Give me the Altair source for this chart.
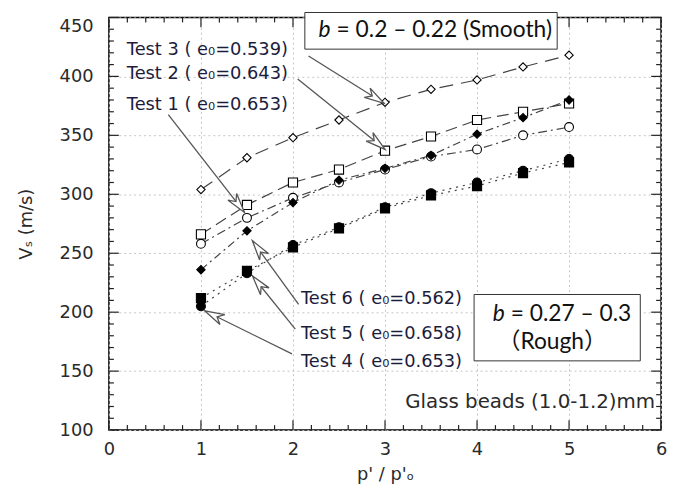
import math
import altair as alt
import pandas as pd

# ---------------- data ----------------
pressure_ratio = [1, 1.5, 2, 2.5, 3, 3.5, 4, 4.5, 5]
vs_test1 = [258, 280, 297, 310, 321, 332, 338, 350, 357]
vs_test2 = [266, 291, 310, 321, 337, 349, 363, 370, 377]
vs_test3 = [304, 331, 348, 363, 378, 389, 397, 408, 418]
vs_test4 = [205, 233, 257, 272, 289, 301, 310, 320, 330]
vs_test5 = [212, 235, 255, 271, 288, 299, 307, 318, 327]
vs_test6 = [236, 269, 293, 312, 322, 333, 351, 365, 380]

series = ["Test 1", "Test 2", "Test 3", "Test 4", "Test 5", "Test 6"]
series_values = [vs_test1, vs_test2, vs_test3, vs_test4, vs_test5, vs_test6]
marker_shapes = ["circle", "square", "diamond", "circle", "square", "diamond"]
marker_fills = ["white", "white", "white", "black", "black", "black"]
marker_sizes = [80, 85, 70, 80, 85, 70]
line_dashes = [[9, 4, 2, 4], [12, 6], [14, 8], [2, 5], [2, 5], [8, 4, 2, 4]]

label_texts = ["Test 1 ( e\u2080=0.653)", "Test 2 ( e\u2080=0.643)", "Test 3 ( e\u2080=0.539)",
               "Test 4 ( e\u2080=0.653)", "Test 5 ( e\u2080=0.658)", "Test 6 ( e\u2080=0.562)"]
label_x = [0.194, 0.194, 0.194, 2.086, 2.086, 2.086]
label_y = [371.9, 397.7, 417.8, 153.4, 177.2, 206.6]

arrow_x = [0.645, 2.051, 2.169, 1.989, 2.025, 2.061]
arrow_y = [367.5, 397.7, 417.3, 164.6, 185.6, 206.6]
arrow_x2 = [1.473, 3.0, 2.989, 1.040, 1.559, 1.559]
arrow_y2 = [284.6, 338.1, 377.2, 201.2, 230.8, 260.6]

box_x = [2.129, 3.968]
box_x2 = [4.871, 5.774]
box_y = [454.2, 215.0]
box_y2 = [423.1, 158.7]

b_x = [2.409, 4.301]
b_y = [439.0, 198.2]
b_rest = ["= 0.2 \u2013 0.22 (Smooth)", "= 0.27 \u2013 0.3"]
rough_text = ["\uff08Rough\uff09"]
rough_x = [4.817]
rough_y = [174.7]

note_text = ["Glass beads (1.0-1.2)mm"]
note_x = [5.935]
note_y = [118.5]

x_major_ticks = [0, 1, 2, 3, 4, 5, 6]
x_minor_ticks = [i / 5 for i in range(31) if i % 5]
y_major_ticks = [100, 150, 200, 250, 300, 350, 400, 450]
y_minor_ticks = [v for v in range(100, 451, 10) if v % 50]

# ---------------- layout ----------------
W, H = 558, 417
FONT = "DejaVu Sans"
xs = alt.Scale(domain=[0, 6], nice=False, zero=False)
ys = alt.Scale(domain=[100, 450], nice=False, zero=False)

rows = []
for name, vals, shp, fil, sz in zip(series, series_values, marker_shapes, marker_fills, marker_sizes):
    for xv, yv in zip(pressure_ratio, vals):
        rows.append({"x": xv, "y": yv, "series": name, "shape": shp, "fill": fil, "size": sz})
df = pd.DataFrame(rows)

x_axis = alt.Axis(values=x_major_ticks, format="d", ticks=False, tickSize=0, domain=False,
                  grid=True, gridDash=[2, 3], gridColor="#c4c4c4",
                  labelFont=FONT, labelFontSize=18, labelColor="#2a2a2a", labelPadding=11,
                  labelFlush=False, labelOverlap=False,
                  title="p' / p'\u2092", titleFont=FONT, titleFontSize=18, titleFontWeight="normal",
                  titleColor="#2a2a2a", titleY=45, titleBaseline="middle")
y_axis = alt.Axis(values=y_major_ticks, format="d", ticks=False, tickSize=0, domain=False,
                  grid=True, gridDash=[2, 3], gridColor="#c4c4c4",
                  labelFont=FONT, labelFontSize=18, labelColor="#2a2a2a", labelPadding=16,
                  labelFlush=False, labelOverlap=False,
                  labelBaseline=alt.condition("datum.value >= 450", alt.value("top"), alt.value("middle")),
                  title="V\u209b (m/s)", titleFont=FONT, titleFontSize=18, titleFontWeight="normal",
                  titleColor="#2a2a2a", titleX=-83, titleY=H / 2, titleBaseline="middle")

lines = alt.Chart(df).mark_line(strokeWidth=1.2, color="#444").encode(
    x=alt.X("x:Q", scale=xs, axis=x_axis),
    y=alt.Y("y:Q", scale=ys, axis=y_axis),
    detail="series:N",
    strokeDash=alt.StrokeDash("series:N", scale=alt.Scale(domain=series, range=line_dashes), legend=None),
)

points = alt.Chart(df).mark_point(filled=True, stroke="black", strokeWidth=1.1, opacity=1).encode(
    x=alt.X("x:Q", scale=xs),
    y=alt.Y("y:Q", scale=ys),
    shape=alt.Shape("shape:N", scale=None),
    fill=alt.Fill("fill:N", scale=None),
    size=alt.Size("size:Q", scale=None),
)

def tick_layer(values, channel, length, side):
    d = pd.DataFrame({channel: values})
    if channel == "x":
        if side == "bottom":
            enc = dict(x=alt.X("x:Q", scale=xs), y=alt.value(H), y2=alt.value(H - length))
        else:
            enc = dict(x=alt.X("x:Q", scale=xs), y=alt.value(0), y2=alt.value(length))
    else:
        if side == "left":
            enc = dict(y=alt.Y("y:Q", scale=ys), x=alt.value(0), x2=alt.value(length))
        else:
            enc = dict(y=alt.Y("y:Q", scale=ys), x=alt.value(W), x2=alt.value(W - length))
    return alt.Chart(d).mark_rule(color="#222", strokeWidth=1.2).encode(**enc)

ticks = [
    tick_layer(x_major_ticks, "x", 10, "bottom"), tick_layer(x_minor_ticks, "x", 5, "bottom"),
    tick_layer(x_major_ticks, "x", 10, "top"), tick_layer(x_minor_ticks, "x", 5, "top"),
    tick_layer(y_major_ticks, "y", 10, "left"), tick_layer(y_minor_ticks, "y", 5, "left"),
    tick_layer(y_major_ticks, "y", 10, "right"), tick_layer(y_minor_ticks, "y", 5, "right"),
]

# arrows
angles = []
for x1, y1, x2, y2 in zip(arrow_x, arrow_y, arrow_x2, arrow_y2):
    dx = (x2 - x1) * W / 6
    dy = -(y2 - y1) * H / 350
    angles.append(math.degrees(math.atan2(dy, dx)) % 360)
arrows_df = pd.DataFrame({"x": arrow_x, "y": arrow_y, "x2": arrow_x2, "y2": arrow_y2,
                          "tipx": arrow_x2, "tipy": arrow_y2, "angle": angles})

arrow_lines = alt.Chart(arrows_df).mark_rule(color="#555", strokeWidth=1.3).encode(
    x=alt.X("x:Q", scale=xs), y=alt.Y("y:Q", scale=ys), x2="x2:Q", y2="y2:Q")

head_path = "M0,0L-2,-0.55L-1.4,0L-2,0.55Z"
arrow_heads = alt.Chart(arrows_df).mark_point(shape=head_path, filled=True, fill="white",
                                             stroke="#555", strokeWidth=1.3, size=400, opacity=1).encode(
    x=alt.X("tipx:Q", scale=xs), y=alt.Y("tipy:Q", scale=ys),
    angle=alt.Angle("angle:Q", scale=None))

labels = alt.Chart(pd.DataFrame({"x": label_x, "y": label_y, "t": label_texts})).mark_text(
    align="left", baseline="alphabetic", font=FONT, fontSize=18, color="#1c1c3c").encode(
    x=alt.X("x:Q", scale=xs), y=alt.Y("y:Q", scale=ys), text="t:N")

boxes = alt.Chart(pd.DataFrame({"x": box_x, "x2": box_x2, "y": box_y, "y2": box_y2})).mark_rect(
    fill="white", stroke="#333", strokeWidth=1).encode(
    x=alt.X("x:Q", scale=xs), x2="x2:Q", y=alt.Y("y:Q", scale=ys), y2="y2:Q")

BOXFONT = "Lato, 'Noto Sans CJK JP'"
b_df = pd.DataFrame({"x": b_x, "y": b_y, "rest": b_rest, "b": ["b", "b"]})
b_italic = alt.Chart(b_df).mark_text(align="right", baseline="middle", font=BOXFONT, fontSize=23,
                                     fontStyle="italic", color="#111").encode(
    x=alt.X("x:Q", scale=xs), y=alt.Y("y:Q", scale=ys), text="b:N")
b_rest_text = alt.Chart(b_df).mark_text(align="left", baseline="middle", font=BOXFONT, fontSize=23,
                                        color="#111", dx=6).encode(
    x=alt.X("x:Q", scale=xs), y=alt.Y("y:Q", scale=ys), text="rest:N")
rough = alt.Chart(pd.DataFrame({"x": rough_x, "y": rough_y, "t": rough_text})).mark_text(
    align="center", baseline="middle", font=BOXFONT, fontSize=23, color="#111").encode(
    x=alt.X("x:Q", scale=xs), y=alt.Y("y:Q", scale=ys), text="t:N")

note = alt.Chart(pd.DataFrame({"x": note_x, "y": note_y, "t": note_text})).mark_text(
    align="right", baseline="alphabetic", font=FONT, fontSize=20, color="#2a2a2a").encode(
    x=alt.X("x:Q", scale=xs), y=alt.Y("y:Q", scale=ys), text="t:N")

chart = alt.layer(
    lines, *ticks, points, arrow_lines, arrow_heads, labels, note, boxes, b_italic, b_rest_text, rough
).properties(
    width=W, height=H,
    padding={"left": 102, "top": 7, "right": 8, "bottom": 56},
    autosize=alt.AutoSizeParams(type="none"),
).configure_view(stroke="black", strokeWidth=1.5)

chart.save("out.html", embed_options={"renderer": "svg", "actions": False})
